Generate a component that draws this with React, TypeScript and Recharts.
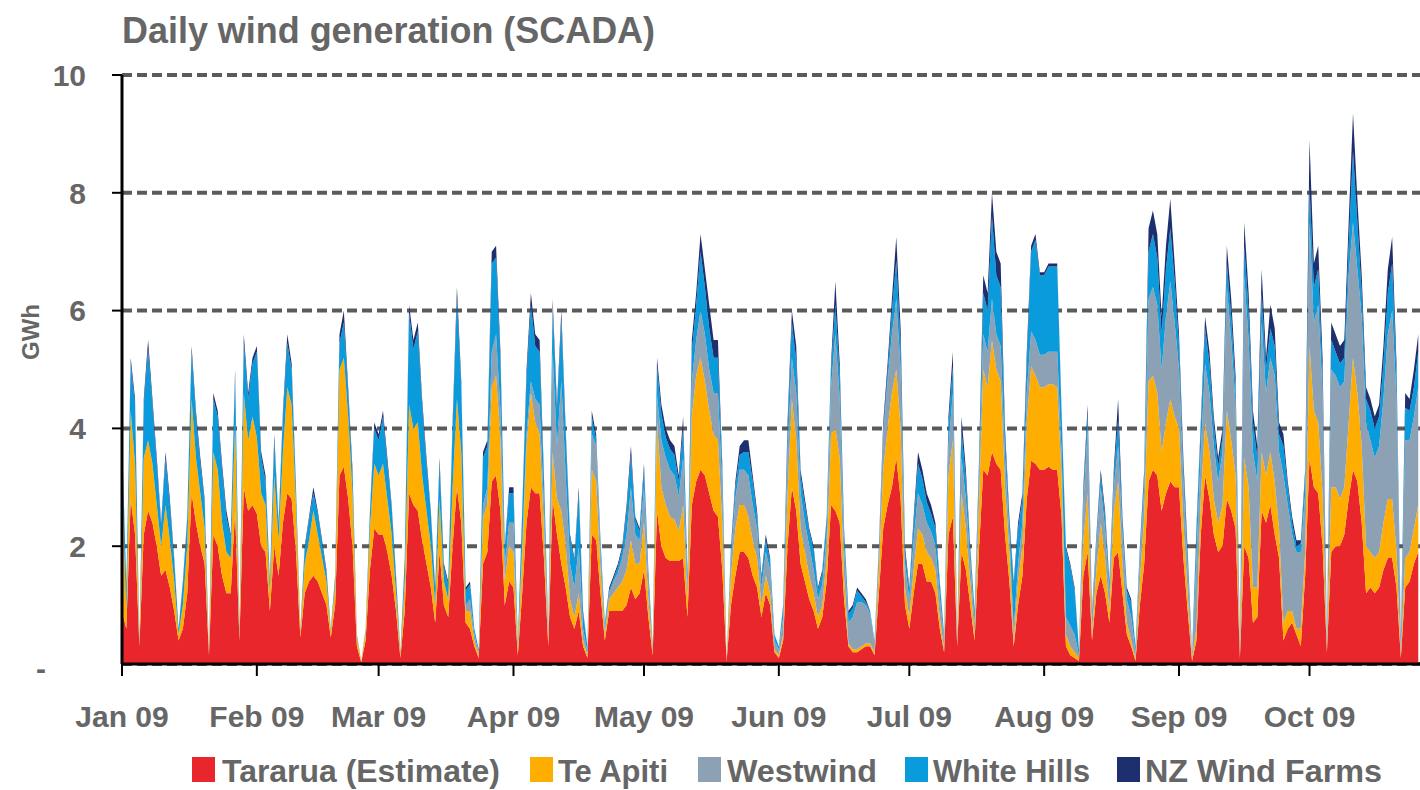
import React from "react";
import { AreaChart, Area, XAxis, YAxis, CartesianGrid } from "recharts";

// daily values in GWh, 1 Jan 09 .. 26 Oct 09 (one line per month)
const tararua = [
  0.9, 0.6, 2.8, 2.2, 0.3, 2.2, 2.6, 2.4, 2.0, 1.5, 1.6, 1.3, 0.9, 0.4, 0.6, 1.2, 2.9, 2.4, 2.0, 1.7, 0.15, 2.2, 2.0, 1.5, 1.2, 1.2, 2.6, 0.4, 3.0, 2.6, 2.7,
  2.55, 2.0, 1.9, 0.9, 2.0, 1.5, 2.4, 2.9, 2.8, 1.9, 0.45, 1.2, 1.4, 1.5, 1.4, 1.2, 1.0, 0.45, 1.0, 3.2, 3.35, 2.8, 2.0, 0.3, 0.03, 0.4, 1.6, 2.3,
  2.2, 2.2, 1.9, 1.5, 0.9, 0.1, 0.9, 2.9, 2.7, 2.6, 2.1, 1.7, 1.3, 0.7, 1.9, 1.0, 0.8, 2.0, 3.0, 2.4, 0.7, 0.6, 0.3, 0.1, 1.7, 1.9, 3.1, 3.2, 2.6, 1.0, 1.4,
  1.3, 0.15, 1.2, 2.4, 3.0, 2.9, 2.9, 1.8, 0.3, 2.8, 2.2, 1.7, 1.3, 0.8, 0.6, 0.9, 0.3, 0.1, 2.2, 2.1, 1.2, 0.4, 0.9, 0.9, 0.9, 0.9, 1.0, 1.3, 1.1, 1.2,
  1.6, 0.8, 0.15, 2.6, 2.0, 1.8, 1.75, 1.75, 1.75, 1.8, 0.8, 2.7, 3.1, 3.3, 3.2, 2.9, 2.6, 2.5, 1.6, 0.05, 1.0, 1.5, 1.9, 1.9, 1.8, 1.5, 1.3, 0.8, 1.2, 1.0, 0.2,
  0.1, 0.4, 2.0, 3.0, 2.6, 1.7, 1.4, 1.1, 0.9, 0.6, 0.8, 1.4, 2.7, 2.6, 2.4, 1.1, 0.3, 0.2, 0.2, 0.25, 0.3, 0.3, 0.15, 1.2, 2.3, 2.7, 3.0, 3.5, 2.8, 1.0,
  0.6, 1.2, 1.7, 1.7, 1.4, 1.4, 1.2, 0.6, 0.2, 2.2, 2.5, 0.3, 1.9, 1.6, 1.0, 0.4, 1.9, 3.3, 3.2, 3.6, 3.4, 3.3, 2.2, 1.4, 0.3, 1.0, 1.5, 2.8, 3.45, 3.4, 3.3,
  3.3, 3.35, 3.3, 3.3, 2.5, 0.3, 0.15, 0.1, 0.05, 1.5, 1.9, 0.4, 1.2, 1.5, 1.2, 0.7, 1.8, 1.9, 1.2, 0.5, 0.3, 0.05, 1.0, 1.7, 3.1, 3.3, 3.2, 2.6, 2.9, 3.1, 3.0,
  3.0, 1.8, 0.9, 0.05, 0.4, 2.2, 3.2, 2.8, 2.2, 1.9, 2.0, 2.8, 2.6, 2.3, 0.1, 2.0, 1.8, 0.7, 0.8, 2.6, 2.4, 2.7, 2.2, 1.8, 0.4, 0.6, 0.7, 0.5, 0.3, 1.5,
  3.5, 3.0, 2.9, 2.0, 0.2, 1.9, 2.0, 2.0, 2.2, 2.8, 3.3, 3.1, 2.4, 1.2, 1.3, 1.2, 1.3, 1.6, 1.8, 1.8, 1.3, 0.1, 1.3, 1.4, 1.7, 1.9,
];

const teApiti = [
  2.1, 0.3, 1.5, 1.2, 0.05, 1.3, 1.2, 1.0, 0.7, 0.5, 1.1, 0.8, 0.5, 0.1, 0.4, 0.8, 1.6, 1.1, 0.9, 0.6, 0.03, 1.4, 1.3, 0.9, 0.7, 0.6, 1.5, 0.1, 1.6, 1.2, 1.5,
  1.3, 0.9, 0.8, 0.3, 1.2, 0.6, 1.2, 1.8, 1.6, 0.8, 0.1, 0.5, 0.7, 1.1, 0.8, 0.6, 0.4, 0.1, 0.35, 1.8, 1.85, 1.4, 0.9, 0.15, 0.02, 0.15, 0.7, 1.1,
  1.0, 1.2, 0.9, 0.7, 0.3, 0.07, 0.5, 1.5, 1.3, 1.5, 1.1, 0.9, 0.7, 0.3, 0.9, 0.4, 0.3, 1.0, 1.5, 1.2, 0.2, 0.3, 0.1, 0.05, 0.8, 0.8, 1.6, 1.7, 1.2, 0.4, 0.6,
  0.6, 0.1, 0.6, 1.3, 1.6, 1.2, 1.0, 0.5, 0.1, 0.8, 0.6, 0.9, 0.7, 0.3, 0.2, 0.3, 0.1, 0.05, 1.1, 1.0, 0.4, 0.1, 0.2, 0.3, 0.4, 0.5, 0.6, 0.8, 0.6, 0.5,
  0.8, 0.3, 0.05, 1.5, 1.0, 0.9, 0.75, 0.7, 0.5, 0.9, 0.3, 1.5, 1.8, 1.9, 1.6, 1.4, 1.3, 1.3, 0.8, 0.02, 0.5, 0.8, 0.8, 0.8, 0.7, 0.6, 0.5, 0.2, 0.3, 0.2, 0.05,
  0.05, 0.1, 0.9, 1.5, 1.2, 0.6, 0.5, 0.4, 0.3, 0.2, 0.2, 0.4, 1.2, 1.4, 1.1, 0.4, 0.05, 0.05, 0.05, 0.05, 0.05, 0.05, 0.05, 0.4, 1.0, 1.3, 1.6, 1.5, 1.2, 0.3,
  0.2, 0.4, 0.6, 0.5, 0.5, 0.4, 0.4, 0.2, 0.05, 1.0, 1.3, 0.05, 1.0, 0.7, 0.4, 0.1, 0.8, 1.7, 1.5, 1.9, 1.6, 1.5, 0.8, 0.5, 0.1, 0.4, 0.5, 1.3, 1.6, 1.5, 1.4,
  1.4, 1.4, 1.45, 1.4, 0.7, 0.2, 0.15, 0.1, 0.05, 0.6, 1.0, 0.1, 0.4, 0.9, 0.6, 0.2, 0.8, 1.2, 0.5, 0.2, 0.1, 0.05, 0.4, 0.8, 1.7, 1.6, 1.4, 1.0, 1.2, 1.4, 1.2,
  1.0, 0.6, 0.3, 0.05, 0.2, 0.6, 0.9, 0.8, 0.6, 0.5, 0.7, 1.5, 1.2, 0.9, 0.05, 1.5, 1.2, 0.6, 0.5, 1.0, 0.8, 0.9, 0.9, 0.5, 0.3, 0.3, 0.2, 0.1, 0.3, 0.4,
  1.9, 1.3, 1.2, 0.9, 0.05, 1.1, 1.0, 0.8, 0.8, 1.3, 1.9, 1.5, 1.3, 0.8, 0.6, 0.6, 0.6, 0.8, 1.0, 1.0, 0.6, 0.05, 0.5, 0.5, 0.6, 0.8,
];

const westwind = [
  0, 0, 0, 0, 0, 0, 0, 0, 0, 0, 0, 0, 0, 0, 0, 0, 0, 0, 0, 0, 0, 0, 0, 0, 0, 0, 0, 0, 0, 0, 0,
  0, 0, 0, 0, 0, 0, 0, 0, 0, 0, 0, 0, 0, 0, 0, 0, 0, 0, 0, 0, 0, 0, 0, 0, 0, 0, 0, 0,
  0, 0, 0, 0, 0, 0, 0, 0, 0, 0, 0, 0, 0, 0, 0, 0, 0, 0, 0, 0, 0.1, 0.2, 0.1, 0.05, 0.2, 0.3, 0.6, 0.7, 0.5, 0.3, 0.4,
  0.5, 0.05, 0.2, 0.2, 0.2, 0.4, 0.5, 0.4, 0.1, 1.7, 0.9, 2.2, 1.2, 0.6, 0.5, 0.8, 0.2, 0.05, 0.6, 0.6, 0.3, 0.1, 0.1, 0.2, 0.25, 0.4, 0.6, 0.9, 0.5, 0.4,
  0.6, 0.3, 0.05, 0.45, 0.8, 0.8, 0.8, 0.75, 0.6, 0.8, 0.2, 0.6, 0.6, 0.8, 0.8, 0.7, 0.7, 0.8, 0.6, 0.02, 0.3, 0.5, 0.6, 0.6, 0.7, 0.6, 0.5, 0.3, 0.4, 0.4, 0.15,
  0.1, 0.3, 0.7, 0.7, 0.8, 0.6, 0.5, 0.5, 0.4, 0.3, 0.35, 0.4, 0.8, 1.6, 1.0, 0.5, 0.35, 0.55, 0.8, 0.75, 0.65, 0.5, 0.15, 0.3, 0.6, 0.8, 1.0, 1.2, 1.0, 0.4,
  0.3, 0.5, 0.6, 0.5, 0.5, 0.45, 0.4, 0.35, 0.15, 0.5, 0.8, 0.1, 0.6, 0.5, 0.35, 0.2, 0.4, 0.6, 0.6, 0.7, 0.6, 0.6, 0.5, 0.3, 0.2, 0.3, 0.4, 0.5, 0.6, 0.6, 0.55,
  0.55, 0.55, 0.55, 0.6, 0.4, 0.3, 0.35, 0.3, 0.05, 0.6, 1.1, 0.3, 0.45, 0.6, 0.5, 0.3, 0.4, 0.6, 0.5, 0.4, 0.4, 0.1, 0.4, 0.5, 1.4, 1.5, 1.5, 1.4, 1.8, 2.0, 1.6,
  1.0, 0.7, 0.4, 0.05, 1.2, 0.8, 1.0, 1.0, 0.9, 0.7, 0.9, 2.1, 1.7, 1.2, 0.15, 3.1, 2.5, 2.3, 1.8, 2.2, 1.4, 1.6, 1.8, 1.3, 2.5, 1.8, 1.3, 1.3, 1.3, 1.0,
  2.1, 1.5, 2.0, 1.7, 0.2, 2.0, 1.9, 1.9, 1.8, 2.5, 2.3, 2.1, 2.2, 2.1, 1.9, 1.7, 1.8, 2.1, 2.8, 3.2, 2.6, 0.3, 2.0, 1.9, 1.9, 2.0,
];

const whiteHills = [
  0.8, 0.35, 0.8, 1.0, 0.05, 0.9, 1.55, 1.0, 0.7, 0.35, 0.8, 0.6, 0.35, 0.1, 0.35, 0.45, 0.8, 0.7, 0.5, 0.45, 0.02, 0.9, 0.9, 0.9, 0.6, 0.35, 0.8, 0.1, 0.85, 0.7, 0.9,
  1.45, 0.6, 0.4, 0.15, 0.6, 0.25, 0.6, 0.75, 0.6, 0.25, 0.05, 0.25, 0.35, 0.3, 0.35, 0.25, 0.15, 0.05, 0.1, 0.45, 0.6, 0.4, 0.3, 0.05, 0, 0.05, 0.25, 0.6,
  0.6, 0.8, 0.6, 0.45, 0.25, 0.03, 0.35, 1.55, 1.35, 1.55, 1.2, 0.8, 0.55, 0.25, 0.6, 0.25, 0.25, 1.0, 1.7, 1.1, 0.25, 0.25, 0.1, 0.05, 0.8, 0.7, 1.5, 1.3, 0.85, 0.25, 0.5,
  0.5, 0.1, 0.55, 0.95, 1.3, 0.9, 0.9, 0.4, 0.1, 0.75, 0.6, 1.05, 0.7, 0.45, 0.45, 0.9, 0.25, 0.1, 0.3, 0.1, 0.15, 0.1, 0.05, 0.05, 0.1, 0.15, 0.4, 0.55, 0.25, 0.15,
  0.3, 0.15, 0.05, 0.5, 0.45, 0.35, 0.35, 0.35, 0.25, 0.5, 0.15, 0.5, 0.6, 1.0, 0.8, 0.7, 0.6, 0.6, 0.3, 0.01, 0.15, 0.2, 0.25, 0.3, 0.4, 0.4, 0.2, 0.15, 0.2, 0.15, 0.1,
  0.05, 0.15, 0.35, 0.6, 0.55, 0.3, 0.3, 0.25, 0.35, 0.15, 0.2, 0.25, 0.3, 0.5, 0.4, 0.25, 0.15, 0.15, 0.2, 0.1, 0.05, 0.05, 0.05, 0.05, 0.1, 0.15, 0.4, 0.65, 0.4, 0.2,
  0.15, 0.3, 0.5, 0.45, 0.35, 0.3, 0.3, 0.2, 0.1, 0.35, 0.45, 0.05, 0.45, 0.35, 0.2, 0.15, 0.2, 0.7, 0.7, 1.4, 1.0, 1.0, 0.35, 0.2, 0.75, 0.6, 0.4, 0.5, 1.35, 1.7, 1.35,
  1.35, 1.45, 1.45, 1.45, 0.65, 1.15, 1.0, 0.75, 0.1, 0.2, 0.25, 0.05, 0.1, 0.2, 0.2, 0.15, 0.2, 0.45, 0.2, 0.15, 0.25, 0.1, 0.15, 0.2, 0.8, 0.9, 0.8, 0.6, 0.8, 0.9, 0.7,
  0.4, 0.25, 0.2, 0.05, 0.4, 0.4, 0.6, 0.5, 0.35, 0.25, 0.25, 0.4, 0.4, 0.3, 0.1, 0.5, 0.5, 0.5, 0.4, 0.5, 0.4, 0.5, 0.5, 0.3, 0.5, 0.3, 0.2, 0.1, 0.15, 0.3,
  0.6, 0.6, 0.6, 0.3, 0.05, 0.5, 0.4, 0.4, 0.4, 0.5, 1.2, 0.8, 0.4, 0.4, 0.5, 0.5, 0.5, 0.6, 0.7, 0.8, 0.4, 0.05, 0.55, 0.5, 0.5, 0.6,
];

const nzWindFarms = [
  0.1, 0.05, 0.1, 0.1, 0, 0.1, 0.15, 0.1, 0.1, 0.05, 0.1, 0.1, 0.05, 0, 0.05, 0.05, 0.1, 0.1, 0.1, 0.05, 0, 0.1, 0.1, 0.1, 0.1, 0.05, 0.1, 0, 0.15, 0.1, 0.1,
  0.1, 0.1, 0.1, 0.05, 0.1, 0.05, 0.1, 0.15, 0.1, 0.05, 0, 0.05, 0.05, 0.1, 0.05, 0.05, 0.05, 0, 0.05, 0.15, 0.2, 0.1, 0.1, 0, 0, 0, 0.05, 0.1,
  0.1, 0.1, 0.1, 0.05, 0.05, 0, 0.05, 0.15, 0.15, 0.15, 0.1, 0.1, 0.05, 0.05, 0.1, 0.05, 0.05, 0.1, 0.2, 0.1, 0.05, 0.05, 0, 0, 0.1, 0.1, 0.2, 0.2, 0.15, 0.05, 0.1,
  0.1, 0, 0.05, 0.15, 0.2, 0.2, 0.2, 0.1, 0, 0.15, 0.1, 0.15, 0.1, 0.05, 0.05, 0.1, 0.05, 0, 0.1, 0.1, 0.05, 0, 0.05, 0.05, 0.05, 0.05, 0.1, 0.15, 0.05, 0.05,
  0.1, 0.05, 0, 0.15, 0.15, 0.15, 0.15, 0.15, 0.1, 0.2, 0.05, 0.2, 0.2, 0.3, 0.3, 0.4, 0.3, 0.3, 0.1, 0, 0.05, 0.1, 0.15, 0.2, 0.2, 0.1, 0.1, 0.05, 0.1, 0.05, 0,
  0, 0.05, 0.15, 0.2, 0.25, 0.1, 0.1, 0.05, 0.05, 0.05, 0.05, 0.05, 0.1, 0.4, 0.2, 0.05, 0.05, 0.05, 0.05, 0.05, 0.05, 0, 0, 0.05, 0.1, 0.15, 0.2, 0.4, 0.3, 0.1,
  0.05, 0.1, 0.2, 0.15, 0.15, 0.15, 0.1, 0.05, 0, 0.15, 0.25, 0, 0.25, 0.15, 0.05, 0.05, 0.1, 0.3, 0.3, 0.4, 0.4, 0.4, 0.15, 0.1, 0.05, 0.1, 0.1, 0.2, 0.1, 0.1, 0.05,
  0.05, 0.05, 0.05, 0.05, 0.05, 0.05, 0.05, 0.05, 0, 0.1, 0.15, 0.05, 0.05, 0.1, 0.1, 0.05, 0.1, 0.35, 0.1, 0.05, 0.05, 0, 0.05, 0.1, 0.4, 0.4, 0.4, 0.3, 0.4, 0.5, 0.3,
  0.2, 0.15, 0.1, 0, 0.1, 0.1, 0.2, 0.2, 0.15, 0.15, 0.15, 0.3, 0.3, 0.2, 0, 0.4, 0.3, 0.2, 0.2, 0.4, 0.2, 0.4, 0.3, 0.2, 0.2, 0.1, 0.1, 0.1, 0.05, 0.1,
  0.8, 0.4, 0.4, 0.3, 0, 0.3, 0.3, 0.3, 0.3, 0.4, 0.65, 0.4, 0.3, 0.2, 0.2, 0.2, 0.2, 0.3, 0.4, 0.45, 0.2, 0, 0.25, 0.2, 0.3, 0.3,
];

// day index of the first of each month, and its label
const monthStarts = [0, 31, 59, 90, 120, 151, 181, 212, 243, 273];
const monthLabels = ["Jan 09", "Feb 09", "Mar 09", "Apr 09", "May 09", "Jun 09", "Jul 09", "Aug 09", "Sep 09", "Oct 09"];
const yTicks = [0, 2, 4, 6, 8, 10];

const series = [
  { key: "tararua", name: "Tararua (Estimate)", color: "#E8262B" },
  { key: "teApiti", name: "Te Apiti", color: "#FFAD00" },
  { key: "westwind", name: "Westwind", color: "#8DA1B4" },
  { key: "whiteHills", name: "White Hills", color: "#0A9BDD" },
  { key: "nzWindFarms", name: "NZ Wind Farms", color: "#1D2F6F" },
];

const data = tararua.map((v, i) => ({
  day: i,
  tararua: v,
  teApiti: teApiti[i],
  westwind: westwind[i],
  whiteHills: whiteHills[i],
  nzWindFarms: nzWindFarms[i],
}));

const FONT = "'Liberation Sans', Arial, Helvetica, sans-serif";
const TEXT = "#666666";
const AXIS_Y = 664;
const AXIS_X = 122;

const XTick = (props: any) => {
  const { x, payload } = props;
  const label = monthLabels[monthStarts.indexOf(payload.value)];
  return (
    <g>
      <line x1={x} x2={x} y1={AXIS_Y} y2={AXIS_Y + 12} stroke="#000" strokeWidth={2} />
      <text x={x} y={AXIS_Y + 63} textAnchor="middle" fill={TEXT} fontSize={30} fontWeight="bold" fontFamily={FONT}>
        {label}
      </text>
    </g>
  );
};

const YTick = (props: any) => {
  const { y, payload } = props;
  const v = payload.value;
  if (v === 0) {
    return (
      <text x={46} y={y + 4} dy="0.36em" textAnchor="end" fill={TEXT} fontSize={30} fontWeight="bold" fontFamily={FONT}>
        -
      </text>
    );
  }
  return (
    <g>
      <line x1={AXIS_X - 10} x2={AXIS_X} y1={y} y2={y} stroke="#000" strokeWidth={2} />
      <text x={86} y={y} dy="0.36em" textAnchor="end" fill={TEXT} fontSize={30} fontWeight="bold" fontFamily={FONT}>
        {v}
      </text>
    </g>
  );
};

const legendItems = [
  { box: 192, tx: 222, w: 278 },
  { box: 530, tx: 558, w: 110 },
  { box: 698, tx: 727, w: 150 },
  { box: 905, tx: 933, w: 157 },
  { box: 1117, tx: 1145, w: 237 },
];

export default function App() {
  return (
    <div style={{ position: "absolute", left: 0, top: 0, width: 1420, height: 790, background: "#fff", overflow: "hidden" }}>
      <AreaChart width={1420} height={790} data={data} margin={{ top: 75, right: 0, bottom: 0, left: 0 }}>
        <CartesianGrid vertical={false} stroke="#5a5a5a" strokeWidth={4} strokeDasharray="10 5" />
        <XAxis
          type="number"
          dataKey="day"
          domain={[0, 298.4]}
          ticks={monthStarts}
          interval={0}
          height={126}
          axisLine={{ stroke: "#000", strokeWidth: 3 }}
          tickLine={false}
          tick={<XTick />}
          allowDataOverflow
        />
        <YAxis
          type="number"
          domain={[0, 10]}
          ticks={yTicks}
          interval={0}
          width={122}
          axisLine={{ stroke: "#000", strokeWidth: 3 }}
          tickLine={false}
          tick={<YTick />}
        />
        {series.map((s) => (
          <Area
            key={s.key}
            type="linear"
            dataKey={s.key}
            name={s.name}
            stackId="wind"
            stroke="none"
            fill={s.color}
            fillOpacity={1}
            isAnimationActive={false}
          />
        ))}
      </AreaChart>
      <svg width={1420} height={790} style={{ position: "absolute", left: 0, top: 0, pointerEvents: "none" }}>
        <text x={122} y={43} fill={TEXT} fontSize={36} fontWeight="bold" fontFamily={FONT} textLength={533} lengthAdjust="spacingAndGlyphs">
          Daily wind generation (SCADA)
        </text>
        <text
          x={30}
          y={332}
          transform="rotate(-90 30 332)"
          textAnchor="middle"
          dy="0.36em"
          fill={TEXT}
          fontSize={24}
          fontWeight="bold"
          fontFamily={FONT}
        >
          GWh
        </text>
        {series.map((s, i) => (
          <g key={s.key}>
            <rect x={legendItems[i].box} y={757} width={23} height={25} fill={s.color} />
            <text
              x={legendItems[i].tx}
              y={782}
              fill={TEXT}
              fontSize={31}
              fontWeight="bold"
              fontFamily={FONT}
              textLength={legendItems[i].w}
              lengthAdjust="spacingAndGlyphs"
            >
              {s.name}
            </text>
          </g>
        ))}
      </svg>
    </div>
  );
}
